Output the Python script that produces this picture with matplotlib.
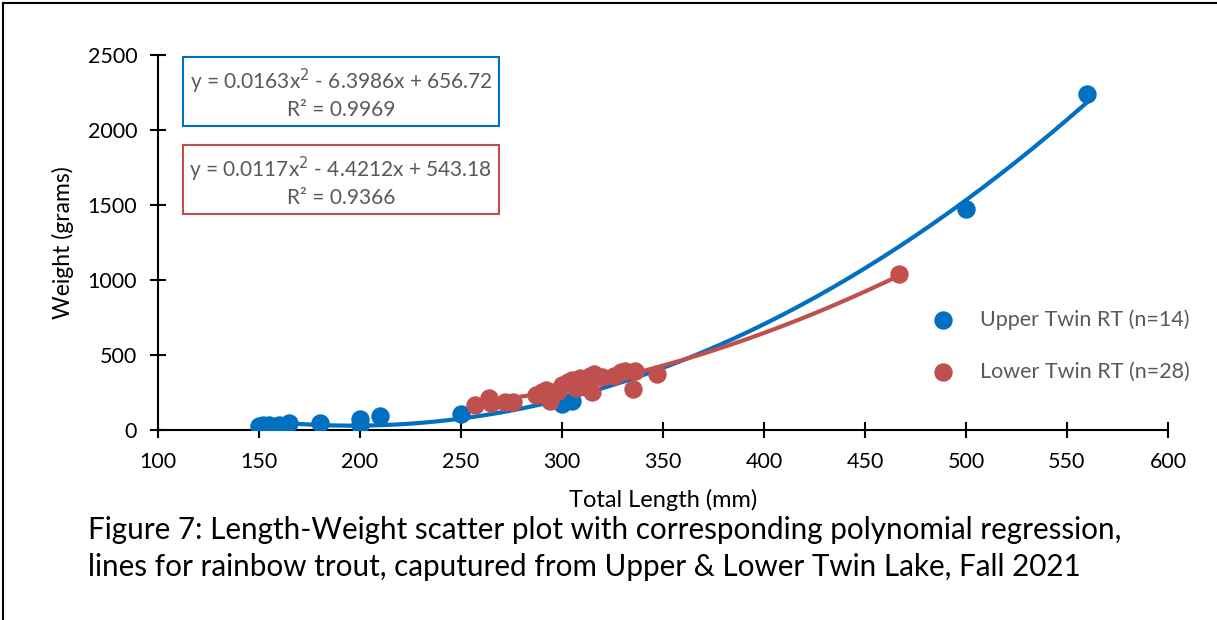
import numpy as np
import matplotlib.pyplot as plt
from matplotlib.lines import Line2D

# Upper Twin rainbow trout (n=14)
upper_len = [150, 152, 155, 160, 165, 180, 200, 200, 210, 250, 300, 305, 500, 560]
upper_wt = [25, 35, 30, 30, 45, 45, 75, 30, 90, 105, 175, 195, 1475, 2240]

# Lower Twin rainbow trout (n=28)
lower_len = [257, 264, 265, 272, 276, 287, 290, 292, 294, 296, 298, 300, 303, 305,
             307, 309, 311, 314, 315, 316, 320, 326, 329, 331, 335, 336, 347, 467]
lower_wt = [165, 215, 180, 185, 185, 235, 255, 265, 190, 250, 260, 300, 320, 330,
            280, 345, 305, 360, 255, 370, 350, 360, 385, 395, 270, 390, 370, 1040]

# printed trendline coefficients (a, b, c) and R^2
upper_fit = [0.0163, -6.3986, 656.72]
upper_r2 = 0.9969
lower_fit = [0.0117, -4.4212, 543.18]
lower_r2 = 0.9366

blue = '#0070C0'
red = '#C0504D'
grey = '#595959'

plt.rcParams['font.family'] = ['Lato', 'DejaVu Sans']

fig = plt.figure(figsize=(12.17, 6.2), dpi=100)
ax = fig.add_axes([0.1298, 0.3065, 0.8299, 0.6048])

# trend lines first, points on top
for lens, coef, col in [(upper_len, upper_fit, blue), (lower_len, lower_fit, red)]:
    xs = np.linspace(min(lens), max(lens), 200)
    ax.plot(xs, np.polyval(coef, xs), color=col, lw=3, zorder=2)

ax.scatter(upper_len, upper_wt, s=150, color=blue, zorder=3, label='Upper Twin RT (n=14)')
ax.scatter(lower_len, lower_wt, s=150, color=red, zorder=3, label='Lower Twin RT (n=28)')

ax.set_xlim(100, 600)
ax.set_ylim(0, 2500)
ax.set_xticks(range(100, 601, 50))
ax.set_yticks(range(0, 2501, 500))
for s in ['top', 'right']:
    ax.spines[s].set_visible(False)
for s in ['left', 'bottom']:
    ax.spines[s].set_linewidth(1.5)
ax.tick_params(direction='inout', length=12, width=1.5, labelsize=15.5)
ax.tick_params(axis='x', pad=10)
ax.tick_params(axis='y', pad=9)
ax.set_xlabel('Total Length (mm)', fontsize=17, labelpad=12)
ax.set_ylabel('Weight (grams)', fontsize=16.5, labelpad=10)

# equation boxes
def eq(coef, r2):
    return 'y = %.4fx$^2$ - %.4fx + %.2f\nR² = %.4f' % (coef[0], -coef[1], coef[2], r2)

fig.text(0.2802, 0.8495, eq(upper_fit, upper_r2), ha='center', va='center', fontsize=15,
         color=grey, linespacing=1.2,
         bbox=dict(boxstyle='square,pad=0.33', fc='white', ec=blue, lw=1.5))
fig.text(0.2802, 0.7075, eq(lower_fit, lower_r2), ha='center', va='center', fontsize=15,
         color=grey, linespacing=1.2,
         bbox=dict(boxstyle='square,pad=0.33', fc='white', ec=red, lw=1.5))

leg = ax.legend(loc='center left', bbox_to_anchor=(0.737, 0.225), frameon=False,
                fontsize=15.5, labelspacing=1.5, handletextpad=0.7, markerscale=1.0)
for t in leg.get_texts():
    t.set_color(grey)

fig.text(0.072, 0.115, 'Figure 7: Length-Weight scatter plot with corresponding polynomial regression,\n'
         'lines for rainbow trout, caputured from Upper & Lower Twin Lake, Fall 2021',
         ha='left', va='center', fontsize=21.3, linespacing=1.4)

# page frame (left and top edges)
fig.add_artist(Line2D([0.0025, 0.0025], [0, 0.995], color='black', lw=1.5))
fig.add_artist(Line2D([0.0025, 1], [0.995, 0.995], color='black', lw=1.5))

fig.savefig('out.png', dpi=100)
